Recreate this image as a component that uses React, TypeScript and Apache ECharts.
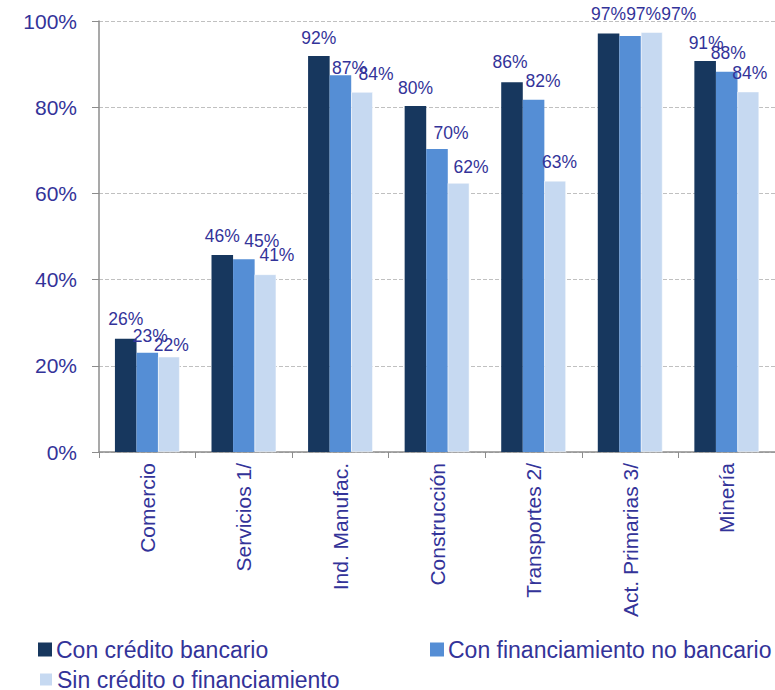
import React, { useEffect, useRef } from "react";
import * as echarts from "echarts";

const categories = ["Comercio", "Servicios 1/", "Ind. Manufac.", "Construcción", "Transportes 2/", "Act. Primarias 3/", "Minería"];
const seriesNames = ["Con crédito bancario", "Con financiamiento no bancario", "Sin crédito o financiamiento"];
const conCredito = [26.3, 45.7, 91.9, 80.3, 85.8, 97.1, 90.7];
const conFinanciamiento = [23.0, 44.7, 87.4, 70.3, 81.7, 96.5, 88.2];
const sinCredito = [22.1, 41.2, 83.5, 62.4, 62.9, 97.4, 83.6];
const yTicks = [0, 20, 40, 60, 80, 100];

// label nudges (layout only), [dx, dy] per series per category
const labelNudges = [
  [[0, -2], [0, -1], [0, 0], [0, 0], [-2, -2], [0, -1], [1, 0]],
  [[3, 1], [18, 0], [9, 11], [14, 2], [9.5, -1], [13.5, -4], [1.5, -0.7]],
  [[2.5, 6], [11.5, -1], [14, 0], [12.5, 2], [4.5, -1], [27, 0], [1.5, -1]],
];

const colors = ["#17375E", "#558ED5", "#C6D9F1"];
const textColor = "#333399";

export default function App() {
  const ref = useRef<HTMLDivElement>(null);
  useEffect(() => {
    if (!ref.current) return;
    const chart = echarts.init(ref.current, null, { renderer: "svg" });
    const values = [conCredito, conFinanciamiento, sinCredito];
    const legendPos = [
      { left: 38, top: 638 },
      { left: 430, top: 638 },
      { left: 38, top: 668 },
    ];
    chart.setOption({
      animation: false,
      textStyle: { fontFamily: "Liberation Sans, Arial, sans-serif" },
      grid: { left: 99, top: 21, bottom: 238, right: -7, containLabel: false },
      legend: seriesNames.map((n, i) => ({
        data: [n],
        left: legendPos[i].left,
        top: legendPos[i].top,
        icon: "rect",
        itemWidth: 14,
        itemHeight: 14,
        itemGap: 0,
        padding: 0,
        textStyle: { color: textColor, fontSize: 23, padding: [0, 0, 0, -1] },
      })),
      xAxis: {
        type: "category",
        data: categories,
        axisLine: { lineStyle: { color: "#8c8c8c", width: 1.5 } },
        axisTick: { show: true, length: 6, lineStyle: { color: "#8c8c8c" } },
        axisLabel: { rotate: 90, color: textColor, fontSize: 21, margin: 11 },
      },
      yAxis: {
        type: "value",
        min: yTicks[0],
        max: yTicks[yTicks.length - 1],
        interval: 20,
        axisLine: { show: true, lineStyle: { color: "#8c8c8c", width: 1.5 } },
        axisTick: { show: true, length: 7, lineStyle: { color: "#8c8c8c" } },
        axisLabel: { color: textColor, fontSize: 21, margin: 22, formatter: "{value}%" },
        splitLine: { show: true, lineStyle: { color: "#c0c0c0", type: "dashed" } },
      },
      series: seriesNames.map((n, i) => ({
        name: n,
        type: "bar",
        data: values[i].map((v, j) => ({ value: v, label: { offset: labelNudges[i][j] } })),
        barGap: "0%",
        barCategoryGap: "33%",
        itemStyle: { color: colors[i], borderColor: "#ffffff", borderWidth: i === 2 ? 0.5 : 0 },
        label: {
          show: true,
          position: "top",
          distance: 9,
          color: textColor,
          fontSize: 17.5,
          formatter: (p: any) => Math.round(p.value) + "%",
        },
      })),
    });
    return () => chart.dispose();
  }, []);
  return <div ref={ref} style={{ width: 775, height: 690, position: "absolute", left: 0, top: 0 }} />;
}
